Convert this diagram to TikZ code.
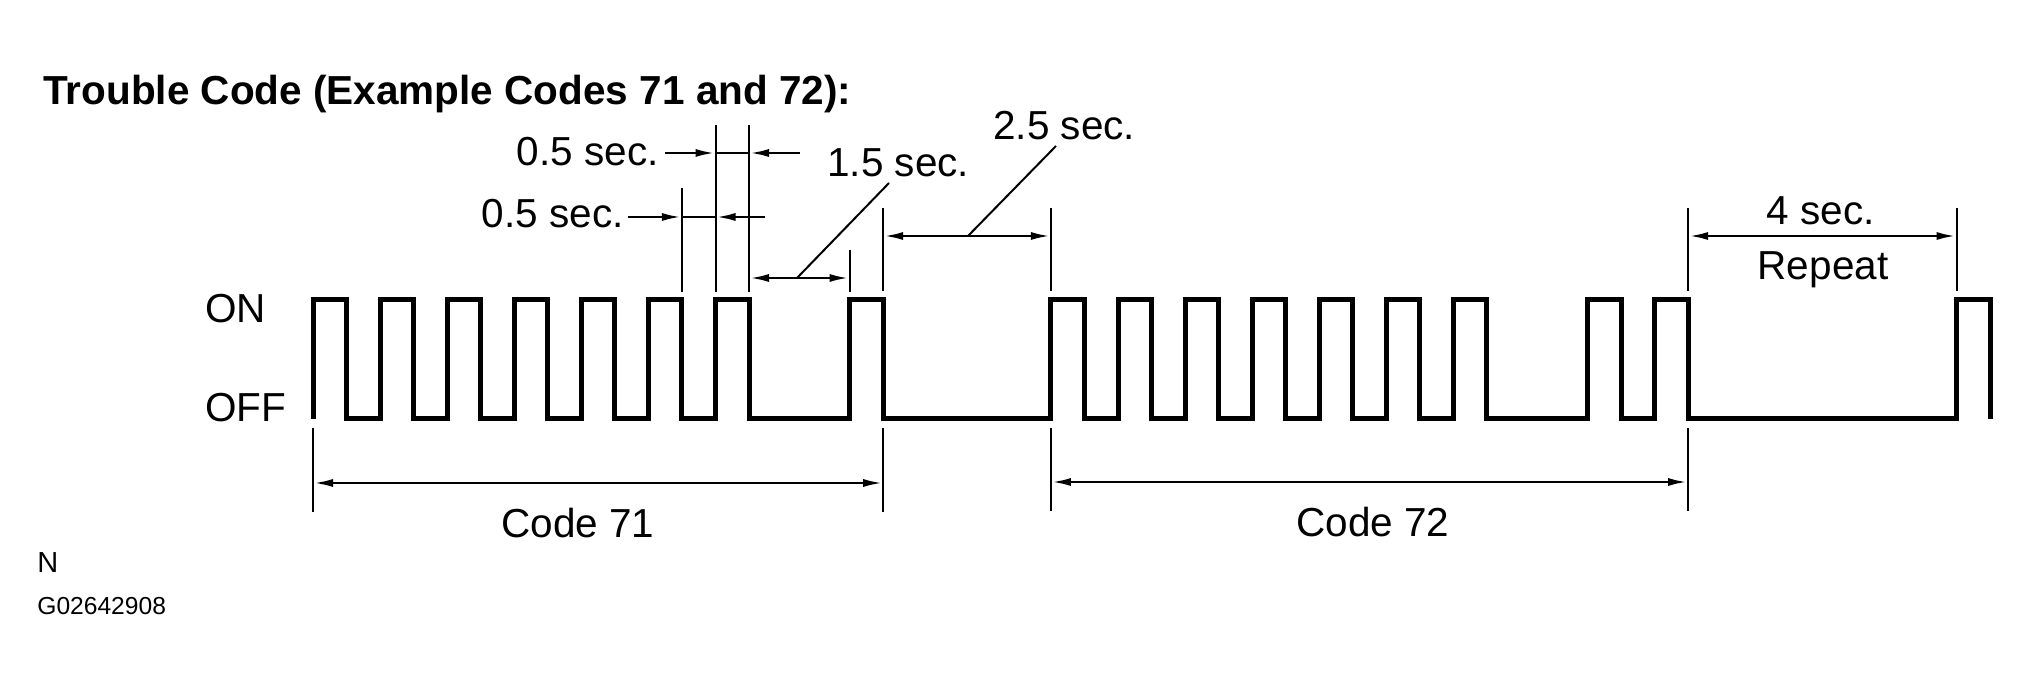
\documentclass[tikz,border=0pt]{standalone}
\usepackage{fontspec}
\setmainfont{Liberation Sans}
\usetikzlibrary{arrows.meta}
\begin{document}
\begin{tikzpicture}[x=0.5pt,y=-0.5pt,
  wave/.style={line width=2.5pt, line join=miter},
  ext/.style={line width=1pt},
  dim/.style={line width=1.4pt},
  lead/.style={line width=1pt},
  tipend/.style={-{Latex[length=10pt,width=4pt]}},
  tipboth/.style={{Latex[length=10pt,width=4pt]}-{Latex[length=10pt,width=4pt]}},
  lbl/.style={inner sep=0pt, font=\fontsize{20.25}{24}\selectfont},
]
\useasboundingbox (0,0) rectangle (2029,694);

% title
\node[lbl, anchor=base west, font=\fontsize{20.25}{24}\selectfont\bfseries] (title) at (43,105) {Trouble Code (Example Codes 71 and 72):};

% waveform
\draw[wave] (313,419)
  \foreach \a/\b in {313/346.5, 380.1/413.6, 447.2/480.7, 514.2/547.8, 581.3/614.9,
                     648.4/681.9, 715.5/749.0, 849.6/883.2,
                     1050.9/1084.4, 1118.0/1151.5, 1185.1/1218.6, 1252.1/1285.7,
                     1319.2/1352.7, 1386.3/1419.8, 1453.4/1486.9, 1587.5/1621.1,
                     1654.6/1688.1, 1956.5/1990.0}
  { -- (\a,419) -- (\a,300) -- (\b,300) -- (\b,419) };

% ON / OFF
\node[lbl, anchor=base west] (ton) at (205,323) {ON};
\node[lbl, anchor=base west] (toff) at (205,422) {OFF};

% extension lines (top)
\draw[ext] (681.9,188) -- (681.9,292);
\draw[ext] (715.5,125) -- (715.5,292);
\draw[ext] (749.0,125) -- (749.0,292);
\draw[ext] (849.6,250) -- (849.6,292);
\draw[ext] (883.2,208) -- (883.2,291);
\draw[ext] (1050.9,208) -- (1050.9,291);
\draw[ext] (1688.1,208) -- (1688.1,291);
\draw[ext] (1956.5,208) -- (1956.5,291);
% extension lines (bottom)
\draw[ext] (313,428) -- (313,512);
\draw[ext] (883.2,428) -- (883.2,512);
\draw[ext] (1050.9,428) -- (1050.9,511);
\draw[ext] (1688.1,428) -- (1688.1,511);

% dimension end points
\coordinate (ua) at (665,153);   \coordinate (ub) at (715.5,153);
\coordinate (uc) at (749.0,153); \coordinate (ud) at (800,153);
\coordinate (la) at (628,217);   \coordinate (lb) at (681.9,217);
\coordinate (lc) at (715.5,217); \coordinate (ld) at (765,217);
\coordinate (fa) at (749.0,278); \coordinate (fb) at (849.6,278);
\coordinate (ta) at (883.2,236); \coordinate (tb) at (1050.9,236);
\coordinate (ra) at (1688.1,236); \coordinate (rb) at (1956.5,236);
\coordinate (ca) at (313,483);   \coordinate (cb) at (883.2,483);
\coordinate (da) at (1050.9,482); \coordinate (db) at (1688.1,482);

% upper 0.5 sec
\draw[dim] (ub) -- (uc);
\draw[dim, tipend] (ua) -- (ub);
\draw[dim, tipend] (ud) -- (uc);
\node[lbl, anchor=base east] (t05a) at (659,166) {0.5 sec.};
% lower 0.5 sec
\draw[dim] (lb) -- (lc);
\draw[dim, tipend] (la) -- (lb);
\draw[dim, tipend] (ld) -- (lc);
\node[lbl, anchor=base east] (t05b) at (624,228) {0.5 sec.};

% 1.5 sec
\draw[dim, tipboth] (fa) -- (fb);
\coordinate (f15a) at (797,278); \coordinate (f15b) at (889,183);
\draw[lead] (f15a) -- (f15b);
\node[lbl, anchor=base west] (t15) at (827,177) {1.5 sec.};

% 2.5 sec
\draw[dim, tipboth] (ta) -- (tb);
\coordinate (f25a) at (968,236); \coordinate (f25b) at (1056,146);
\draw[lead] (f25a) -- (f25b);
\node[lbl, anchor=base west] (t25) at (993,140) {2.5 sec.};

% 4 sec repeat
\draw[dim, tipboth] (ra) -- (rb);
\node[lbl, anchor=base] (t4) at (1821,225) {4 sec.};
\node[lbl, anchor=base] (trep) at (1823,280) {Repeat};

% code 71 / 72
\draw[dim, tipboth] (ca) -- (cb);
\node[lbl, anchor=base west] (t71) at (501,538) {Code 71};
\draw[dim, tipboth] (da) -- (db);
\node[lbl, anchor=base] (t72) at (1373,537) {Code 72};

% footer
\node[inner sep=0pt, anchor=base west, font=\fontsize{14.5}{17}\selectfont] (tn) at (37,573) {N};
\node[inner sep=0pt, anchor=base west, font=\fontsize{12.3}{15}\selectfont] (tg) at (37,615) {G02642908};
\end{tikzpicture}
\end{document}
